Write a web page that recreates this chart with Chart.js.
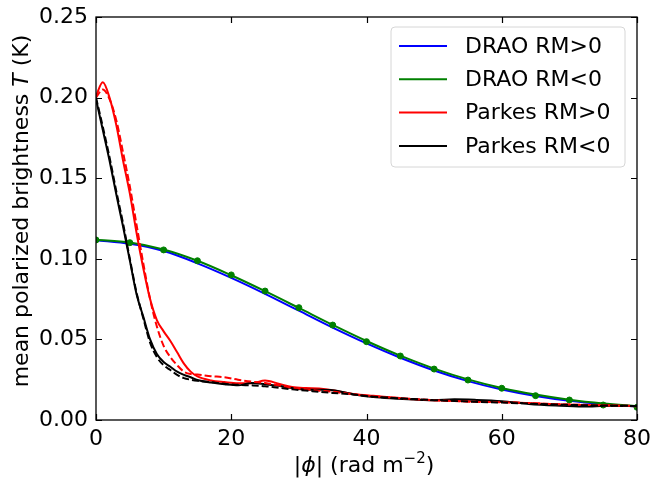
<!DOCTYPE html>
<html>
<head>
<meta charset="utf-8">
<script src="https://cdn.jsdelivr.net/npm/chart.js@4.4.1/dist/chart.umd.min.js"></script>
<style>
  html, body { margin: 0; padding: 0; background: #fff; }
  #wrap { width: 650px; height: 481px; }
</style>
</head>
<body>
<div id="wrap"><canvas id="mycanvas" width="650" height="481"></canvas></div>
<script>
// Faraday depth |phi| samples
var phiDrao = [0, 5, 10, 15, 20, 25, 30, 35, 40, 45, 50, 55, 60, 65, 70, 75, 80];
var draoPos = [0.1115, 0.1093, 0.1048, 0.0972, 0.0882, 0.0783, 0.0678, 0.0573, 0.0475, 0.0386, 0.0307, 0.0241, 0.0189, 0.0149, 0.0119, 0.0098, 0.0083];
var draoNeg = [0.1118, 0.1101, 0.1058, 0.0988, 0.0898, 0.0799, 0.0695, 0.0590, 0.0490, 0.0399, 0.0319, 0.0252, 0.0199, 0.0158, 0.0126, 0.0103, 0.0087];
var draoNegPts = [0.1117, 0.1100, 0.1055, 0.0988, 0.0900, 0.0800, 0.0697, 0.0589, 0.0486, 0.0397, 0.0316, 0.0248, 0.0197, 0.0151, 0.0124, 0.0093, 0.0079];

var phiParkes = [0, 1, 2, 3, 4, 5, 6, 7, 8, 9, 10, 11, 12, 13, 14, 15, 17, 19, 21, 23, 25, 27, 29, 31, 33, 35, 38, 41, 44, 47, 50, 53, 56, 60, 64, 68, 72, 76, 80];
var parkesPos = [0.201, 0.2095, 0.200, 0.183, 0.161, 0.1406, 0.116, 0.094, 0.075, 0.062, 0.055, 0.049, 0.042, 0.035, 0.030, 0.027, 0.0245, 0.0235, 0.0228, 0.0228, 0.0245, 0.0225, 0.0205, 0.0198, 0.0195, 0.0185, 0.0162, 0.0150, 0.0140, 0.0128, 0.0122, 0.0118, 0.0115, 0.0112, 0.0105, 0.0098, 0.0093, 0.0090, 0.0086];
var parkesPosFit = [0.200, 0.205, 0.199, 0.186, 0.166, 0.145, 0.121, 0.097, 0.075, 0.058, 0.046, 0.039, 0.034, 0.030, 0.0285, 0.0282, 0.0272, 0.0265, 0.0250, 0.0238, 0.0230, 0.0215, 0.0200, 0.0190, 0.0182, 0.0175, 0.0160, 0.0148, 0.0138, 0.0130, 0.0123, 0.0118, 0.0113, 0.0110, 0.0105, 0.0098, 0.0094, 0.0090, 0.0087];
var parkesNeg = [0.199, 0.180, 0.161, 0.140, 0.120, 0.099, 0.078, 0.064, 0.050, 0.041, 0.036, 0.033, 0.030, 0.028, 0.0265, 0.0248, 0.0232, 0.0222, 0.0215, 0.0230, 0.0222, 0.0212, 0.0198, 0.0188, 0.0187, 0.0185, 0.0160, 0.0142, 0.0133, 0.0127, 0.0123, 0.0128, 0.0125, 0.0117, 0.0100, 0.0090, 0.0084, 0.0088, 0.0087];
var parkesNegFit = [0.200, 0.182, 0.163, 0.142, 0.122, 0.100, 0.079, 0.063, 0.048, 0.039, 0.034, 0.031, 0.028, 0.026, 0.025, 0.0243, 0.0235, 0.0225, 0.0218, 0.0215, 0.0210, 0.0200, 0.0190, 0.0183, 0.0175, 0.0168, 0.0158, 0.0145, 0.0137, 0.0130, 0.0123, 0.0118, 0.0113, 0.0108, 0.0102, 0.0096, 0.0092, 0.0089, 0.0087];

var xTicks = [0, 20, 40, 60, 80];
var yTicks = [0, 0.05, 0.10, 0.15, 0.20, 0.25];

var legendItems = [
  { label: "DRAO RM>0", color: "#0000ff" },
  { label: "DRAO RM<0", color: "#008000" },
  { label: "Parkes RM>0", color: "#ff0000" },
  { label: "Parkes RM<0", color: "#000000" }
];

var FONT = "'DejaVu Sans', sans-serif";

function pts(xs, ys) {
  var out = [];
  for (var i in xs) out.push({ x: xs[i], y: ys[i] });
  return out;
}

function lineSet(data, color, dashed, order) {
  return {
    data: data,
    borderColor: color,
    backgroundColor: color,
    borderWidth: 2,
    borderDash: dashed ? [7, 3] : [],
    pointRadius: 0,
    fill: false,
    cubicInterpolationMode: "monotone",
    order: order
  };
}

// frame, inward ticks, legend and axis titles
var decorations = {
  id: "decorations",
  afterDraw: function(chart) {
    var ctx = chart.ctx;
    var a = chart.chartArea;
    var xs = chart.scales.x, ys = chart.scales.y;
    ctx.save();
    ctx.strokeStyle = "#000";
    ctx.lineWidth = 1.3;
    ctx.strokeRect(a.left, a.top, a.right - a.left, a.bottom - a.top);
    ctx.lineWidth = 1.2;
    ctx.beginPath();
    xTicks.forEach(function(v) {
      var px = Math.round(xs.getPixelForValue(v)) + 0.5;
      ctx.moveTo(px, a.bottom); ctx.lineTo(px, a.bottom - 6);
      ctx.moveTo(px, a.top); ctx.lineTo(px, a.top + 6);
    });
    yTicks.forEach(function(v) {
      var py = Math.round(ys.getPixelForValue(v)) + 0.5;
      ctx.moveTo(a.left, py); ctx.lineTo(a.left + 6, py);
      ctx.moveTo(a.right, py); ctx.lineTo(a.right - 6, py);
    });
    ctx.stroke();

    // legend
    var bx = 391, by = 27, bw = 234, bh = 140, r = 4;
    ctx.fillStyle = "rgba(255,255,255,0.8)";
    ctx.strokeStyle = "#d6d6d6";
    ctx.lineWidth = 1;
    ctx.beginPath();
    ctx.moveTo(bx + r, by);
    ctx.arcTo(bx + bw, by, bx + bw, by + bh, r);
    ctx.arcTo(bx + bw, by + bh, bx, by + bh, r);
    ctx.arcTo(bx, by + bh, bx, by, r);
    ctx.arcTo(bx, by, bx + bw, by, r);
    ctx.closePath();
    ctx.fill();
    ctx.stroke();
    ctx.font = "22px " + FONT;
    ctx.textBaseline = "middle";
    ctx.textAlign = "left";
    legendItems.forEach(function(it, i) {
      var y = 46 + i * 33.3;
      ctx.strokeStyle = it.color;
      ctx.lineWidth = 2;
      ctx.beginPath();
      ctx.moveTo(399, y); ctx.lineTo(447, y);
      ctx.stroke();
      ctx.fillStyle = "#000";
      ctx.fillText(it.label, 465, y + 1);
    });

    // axis titles
    ctx.fillStyle = "#000";
    ctx.textBaseline = "alphabetic";
    var norm = "22px " + FONT, ital = "italic 22px " + FONT, small = "15px " + FONT;

    // x title: |phi| (rad m^-2)
    var parts = [["|", norm, 0], ["\u03d5", ital, 0], ["| (rad m", norm, 0], ["\u22122", small, -9], [")", norm, 0]];
    ctx.textAlign = "left";
    var w = 0;
    parts.forEach(function(p) { ctx.font = p[1]; w += ctx.measureText(p[0]).width; });
    var x = 364 - w / 2;
    parts.forEach(function(p) {
      ctx.font = p[1];
      ctx.fillText(p[0], x, 472 + p[2]);
      x += ctx.measureText(p[0]).width;
    });

    // y title: mean polarized brightness T (K)
    var yparts = [["mean polarized brightness ", norm], ["T", ital], [" (K)", norm]];
    w = 0;
    yparts.forEach(function(p) { ctx.font = p[1]; w += ctx.measureText(p[0]).width; });
    ctx.translate(28, 211);
    ctx.rotate(-Math.PI / 2);
    x = -w / 2;
    yparts.forEach(function(p) {
      ctx.font = p[1];
      ctx.fillText(p[0], x, 0);
      x += ctx.measureText(p[0]).width;
    });
    ctx.restore();
  }
};

var chartdata = {
  datasets: [
    lineSet(pts(phiDrao, draoPos), "#0000ff", false, 7),
    lineSet(pts(phiDrao, draoNeg), "#008000", false, 6),
    {
      type: "scatter",
      data: pts(phiDrao, draoNegPts),
      backgroundColor: "#008000",
      borderColor: "#008000",
      pointRadius: 3,
      showLine: false,
      order: 5
    },
    lineSet(pts(phiParkes, parkesPos), "#ff0000", false, 4),
    lineSet(pts(phiParkes, parkesNeg), "#000000", false, 3),
    lineSet(pts(phiParkes, parkesPosFit), "#ff0000", true, 2),
    lineSet(pts(phiParkes, parkesNegFit), "#000000", true, 1)
  ]
};

var ctx = document.getElementById("mycanvas");

var LineGraph = new Chart(ctx, {
  type: "line",
  data: chartdata,
  options: {
    responsive: false,
    animation: false,
    layout: { padding: { left: 0, right: 13, top: 17, bottom: 0 } },
    plugins: { legend: { display: false }, tooltip: { enabled: false } },
    scales: {
      x: {
        type: "linear",
        min: 0, max: 80,
        afterFit: function(s) { s.height = 61; s.paddingLeft = 0; s.paddingRight = 0; },
        afterBuildTicks: function(s) { s.ticks = xTicks.map(function(v) { return { value: v }; }); },
        grid: { display: false, drawTicks: false },
        border: { display: false },
        ticks: { color: "#000", padding: 6, maxRotation: 0, font: { family: FONT, size: 22 } }
      },
      y: {
        type: "linear",
        min: 0, max: 0.25,
        afterFit: function(s) { s.width = 96; s.paddingTop = 0; s.paddingBottom = 0; },
        afterBuildTicks: function(s) { s.ticks = yTicks.map(function(v) { return { value: v }; }); },
        grid: { display: false, drawTicks: false },
        border: { display: false },
        ticks: {
          color: "#000", padding: 8,
          font: { family: FONT, size: 22 },
          callback: function(v) { return v.toFixed(2); }
        }
      }
    }
  },
  plugins: [decorations]
});
</script>
</body>
</html>
